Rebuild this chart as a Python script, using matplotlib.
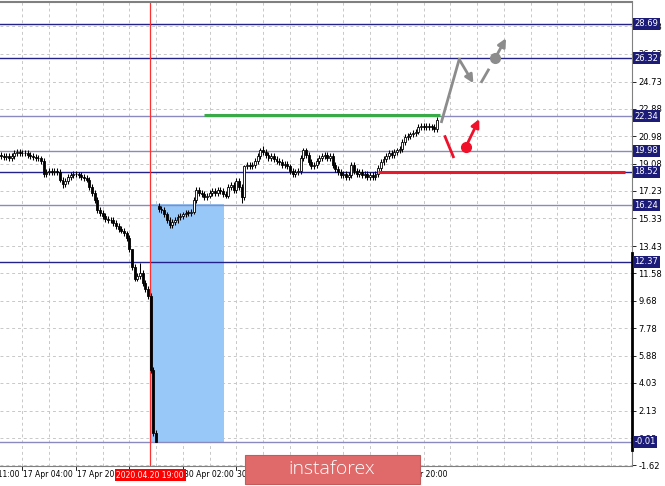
import matplotlib
matplotlib.use("Agg")
import matplotlib.pyplot as plt
from matplotlib.patches import Rectangle
from matplotlib.transforms import blended_transform_factory

# --- DATA ---
closes = [
    19.6, 19.55, 19.6, 19.5, 19.6,
    19.85, 19.9, 19.85, 19.8, 19.85,
    19.7, 19.6, 19.55, 19.5, 19.45,
    19.3, 18.4,
    18.5, 18.6, 18.5, 18.6, 18.5,
    18.0, 17.7,
    17.9, 18.2, 18.3, 18.4, 18.35, 18.3,
    18.2, 18.1, 18.0,
    17.5, 17.1, 16.6,
    15.9, 15.7, 15.5, 15.3, 15.2, 15.2,
    15.0, 14.8, 14.6,
    14.5, 14.3, 14.0,
    13.2, 12.0, 11.2,
    11.4, 11.6, 10.9, 10.5, 10.0,
    4.9, 0.6, 0.0,
    16.0, 15.9, 15.6, 15.2, 14.9, 15.1, 15.2,
    15.4, 15.5, 15.6, 15.7, 15.7, 15.8,
    16.6,
    17.3, 17.1, 17.0, 16.8, 16.9, 17.1,
    17.2, 17.1, 17.3, 17.2, 17.0, 16.9,
    17.5, 17.6,
    17.3, 17.9, 17.5, 16.8,
    18.9,
    19.0, 18.9, 19.0,
    19.3, 19.6, 20.0, 19.9,
    19.7, 19.5, 19.6, 19.4, 19.3, 19.2, 19.0, 19.1,
    18.9, 18.6, 18.4,
    18.5, 18.6,
    19.5, 20.0, 19.7,
    19.2, 18.9, 19.0, 19.3,
    19.5, 19.6, 19.7, 19.5, 19.6,
    19.0, 18.7, 18.5,
    18.3, 18.4, 18.2, 18.3,
    19.0, 18.6, 18.4, 18.5,
    18.3, 18.4, 18.2, 18.3, 18.2, 18.4,
    18.8, 19.2, 19.4,
    19.6, 19.8, 19.7, 19.9, 20.0, 20.1,
    20.6, 20.9,
    21.0, 21.1, 21.2, 21.3,
    21.6, 21.7, 21.6, 21.7, 21.6, 21.6, 21.5,
    22.1,
]
first_open = 19.7
gap_index = 59
gap_open = 16.2
high_override = {49: 12.4, 52: 12.3, 91: 19.0, 97: 20.2, 98: 20.3, 113: 20.2}
low_override = {16: 18.2, 23: 17.4, 53: 10.7, 58: -0.05, 63: 14.7, 90: 16.4}
WICK = 0.2

level_prices = [28.69, 26.32, 22.34, 19.98, 18.52, 16.24, 12.37, -0.01]
level_dark = [True, True, False, False, True, False, True, False]
grid_prices = [28.53, 26.63, 24.73, 22.88, 20.98, 19.08, 17.23, 15.33, 13.43,
               11.58, 9.68, 7.78, 5.88, 4.03, 2.13, 0.23, -1.62]

x_label_idx = [-12, 8, 28, 48, 68, 88, 108, 128, 148]
x_labels = ["16 Apr 11:00", "17 Apr 04:00", "17 Apr 20:00", "20 Apr 12:00",
            "30 Apr 02:00", "30 Apr 18:00", "21 Apr 10:00", "22 Apr 02:00",
            "22 Apr 20:00"]
cursor_idx = 55.8
cursor_label = "2020.04.20 19:00"

# drawn objects on the chart (index, price)
zone = (55.7, 83.4, -0.01, 16.3)
green_line = ([75.9, 164.1], [22.44, 22.44])
red_line = ([140.9, 233.2], [18.52, 18.52])
gray_path = ([164.7, 171.3], [21.98, 26.26])
gray_arrow = ((171.3, 26.26), (176.6, 24.62))
gray_dash = ([179.7, 182.2], [24.73, 25.53])
gray_dot = (184.7, 26.33)
gray_arrow2 = ((184.7, 26.33), (188.8, 27.71))
red_stroke = ([166.0, 169.1], [20.95, 19.57])
red_dot = (173.8, 20.26)
red_arrow = ((173.8, 20.26), (178.8, 22.16))

# --- FIGURE ---
W, H = 665, 486
fig = plt.figure(figsize=(W / 100, H / 100), dpi=100)
ax = fig.add_axes([0, 1 - 466 / H, 632 / W, 464 / H])
ax.set_xlim(-0.37, 235.9)
ax.set_ylim(-1.68, 30.2)

ax.spines["left"].set_visible(False)
ax.spines["top"].set_color("#808080")
ax.spines["top"].set_linewidth(1.5)
ax.spines["bottom"].set_color("#808080")
ax.spines["right"].set_color("#808080")

# grid
for p in grid_prices:
    ax.axhline(p, color="#c8c8c8", lw=0.7, ls=(0, (3, 3)), zorder=0)
for i in range(8, 236, 10):
    ax.axvline(i, color="#c8c8c8", lw=0.7, ls=(0, (3, 3)), zorder=0)

# zone rectangle
ax.add_patch(Rectangle((zone[0], zone[2]), zone[1] - zone[0], zone[3] - zone[2],
                       facecolor="#98c8f8", edgecolor="none", zorder=1))

# levels
for p, dark in zip(level_prices, level_dark):
    ax.axhline(p, color="#22228a" if dark else "#8a8ac0", lw=1.0, zorder=2)

ax.axvline(cursor_idx, color="#ff3030", lw=0.9, zorder=2)

# candles
opens = [first_open] + closes[:-1]
opens[gap_index] = gap_open
idx = list(range(len(closes)))
highs, lows = [], []
for i, (o, c) in enumerate(zip(opens, closes)):
    highs.append(high_override.get(i, max(o, c) + WICK))
    lows.append(low_override.get(i, min(o, c) - WICK))
ax.vlines(idx, lows, highs, color="black", lw=0.75, zorder=3)
bottoms = [min(o, c) for o, c in zip(opens, closes)]
heights = [max(abs(c - o), 0.05) for o, c in zip(opens, closes)]
colors = ["white" if c > o else "black" for o, c in zip(opens, closes)]
ax.bar(idx, heights, bottom=bottoms, width=0.72, color=colors,
       edgecolor="black", linewidth=0.6, zorder=4)

# drawings
ax.plot(*green_line, color="#3aaa48", lw=2.2, zorder=5, solid_capstyle="butt")
ax.plot(*red_line, color="#e8192c", lw=2.2, zorder=5, solid_capstyle="butt")
ax.plot(*gray_path, color="#8c8c8c", lw=2.0, zorder=5)
ax.annotate("", xy=gray_arrow[1], xytext=gray_arrow[0],
            arrowprops=dict(arrowstyle="-|>", color="#8c8c8c", lw=2.0,
                            mutation_scale=12, shrinkA=0, shrinkB=0), zorder=5)
ax.plot(*gray_dash, color="#8c8c8c", lw=2.0, zorder=5)
ax.plot(*gray_dot, "o", color="#8c8c8c", ms=7, zorder=5)
ax.annotate("", xy=gray_arrow2[1], xytext=gray_arrow2[0],
            arrowprops=dict(arrowstyle="-|>", color="#8c8c8c", lw=2.0,
                            mutation_scale=12, shrinkA=0, shrinkB=0), zorder=5)
ax.plot(*red_stroke, color="#f0102a", lw=2.0, zorder=5)
ax.plot(*red_dot, "o", color="#f0102a", ms=7, zorder=5)
ax.annotate("", xy=red_arrow[1], xytext=red_arrow[0],
            arrowprops=dict(arrowstyle="-|>", color="#f0102a", lw=2.0,
                            mutation_scale=12, shrinkA=0, shrinkB=0), zorder=5)

# y axis on right
ax.yaxis.tick_right()
ax.set_yticks(grid_prices)
ax.set_yticklabels([f"{p:.2f}" for p in grid_prices])
ax.tick_params(axis="y", length=3, width=0.6, pad=1.5, labelsize=6,
               colors="black")
ax.set_xticks([])

ytr = blended_transform_factory(ax.transAxes, ax.transData)
for p in level_prices:
    ax.text(1.004, p, f"{p:.2f}", transform=ytr, va="center", ha="left",
            color="white", fontsize=6, clip_on=False, zorder=10,
            bbox=dict(boxstyle="square,pad=0.18", fc="#1c1c78", ec="none"))
ax.plot([1.0, 1.0], [12.95, -0.58], transform=ytr, color="black", lw=2,
        clip_on=False, zorder=6)

# time axis labels
xtr = blended_transform_factory(ax.transData, fig.transFigure)
for i, lab in zip(x_label_idx, x_labels):
    ax.plot([i, i], [1 - 466 / H, 1 - 470 / H], transform=xtr, color="black",
            lw=0.6, clip_on=False)
    ax.text(i + 0.4, 1 - 470 / H, lab, transform=xtr, ha="left", va="top",
            fontsize=5.5, clip_on=False)
ax.text(cursor_idx, 1 - 470.5 / H, cursor_label, transform=xtr, ha="center",
        va="top", fontsize=5.5, color="white", clip_on=False, zorder=10,
        bbox=dict(boxstyle="square,pad=0.2", fc="#ff0000", ec="none"))

# watermark banner
fig.add_artist(Rectangle((245 / W, 1 - 484 / H), 175 / W, 29 / H,
                         transform=fig.transFigure, facecolor="#e06a6a",
                         edgecolor="#c45a5a", lw=0.8, zorder=20))
fig.text(332 / W, 1 - 469 / H, "instaforex", ha="center", va="center",
         color="white", fontsize=14, family="Open Sans", fontweight="light",
         zorder=21)

fig.savefig("out.png", dpi=100)
